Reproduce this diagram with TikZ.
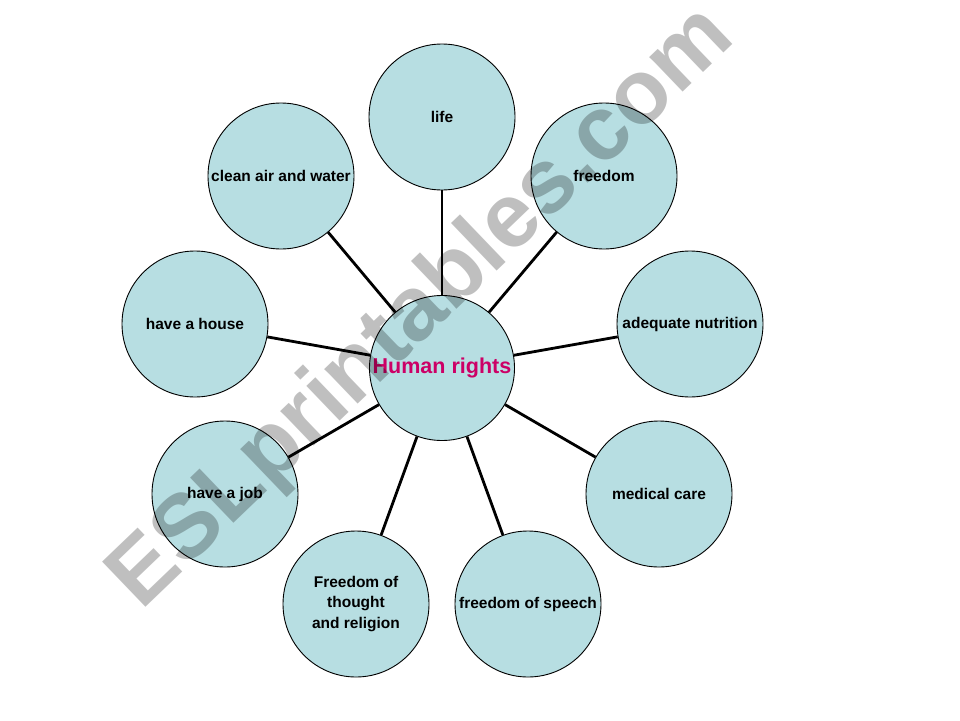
\documentclass[tikz,border=0pt]{standalone}
\usepackage{fontspec}
\setmainfont{Liberation Sans}
\definecolor{bubble}{RGB}{183,222,226}
\definecolor{hrcol}{RGB}{204,0,102}
\begin{document}
\begin{tikzpicture}[x=1pt,y=-1pt,
  bubblenode/.style={circle, draw=black, line width=0.9pt, fill=bubble, minimum size=146pt, inner sep=0pt, align=center,
     font=\fontsize{15.5}{20.5}\selectfont\bfseries},
  spoke/.style={line width=2.8pt, black},
  watermark/.style={font=\fontsize{91}{91}\selectfont\bfseries, text=black, opacity=0.25, inner sep=0pt}]
\useasboundingbox (0,0) rectangle (960,720);
\fill[white] (0,0) rectangle (960,720);
\node[bubblenode, minimum size=145pt, font=\fontsize{21.5}{24}\selectfont\bfseries, text=hrcol] (hr) at (442,368) {Human rights};
\node[bubblenode] (life) at (442,117) {life};
\node[bubblenode] (free) at (604,176) {freedom};
\node[bubblenode] (nutr) at (690,324) {adequate nutrition};
\node[bubblenode] (med) at (659,494) {medical care};
\node[bubblenode] (speech) at (528,604) {freedom of speech};
\node[bubblenode] (thought) at (356,604) {Freedom of\\thought\\and religion};
\node[bubblenode] (job) at (225,494) {have a job};
\node[bubblenode] (house) at (195,324) {have a house};
\node[bubblenode] (air) at (281,176) {clean air and water};
\foreach \t in {life,free,nutr,med,speech,thought,job,house,air}
  \draw[spoke] (hr) -- (\t);
\node[watermark, rotate=43.8] (wm) at (423,309) {ESLprintables.com};
\end{tikzpicture}
\end{document}
